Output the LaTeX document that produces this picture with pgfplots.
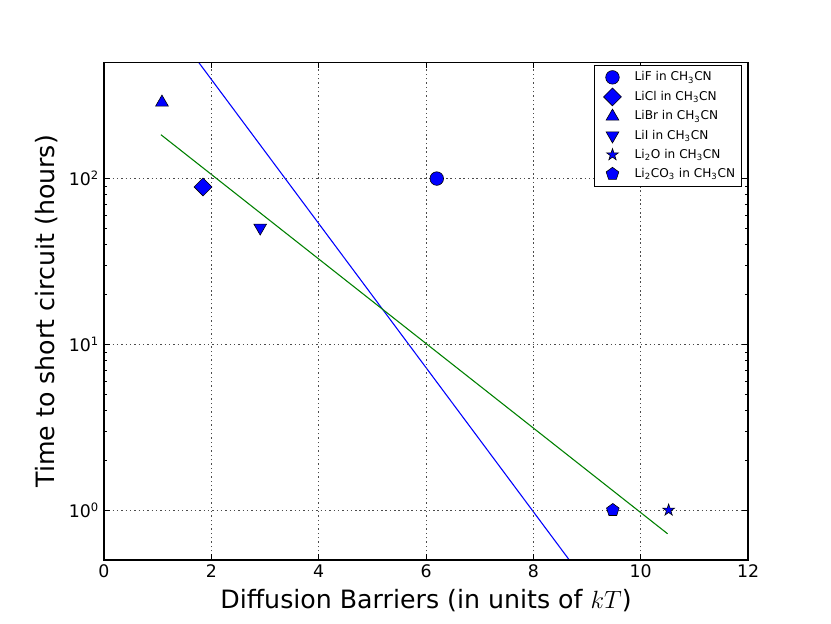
\documentclass[border=0pt]{standalone}
\usepackage{fontspec}
\setmainfont{DejaVu Sans}
\usepackage{pgfplots}
\pgfplotsset{compat=1.18}
\usetikzlibrary{plotmarks}
\pgfdeclareplotmark{fstar}{%
  \pgfpathmoveto{\pgfpointpolar{90}{\pgfplotmarksize}}%
  \pgfpathlineto{\pgfpointpolar{126}{0.382\pgfplotmarksize}}%
  \pgfpathlineto{\pgfpointpolar{162}{\pgfplotmarksize}}%
  \pgfpathlineto{\pgfpointpolar{198}{0.382\pgfplotmarksize}}%
  \pgfpathlineto{\pgfpointpolar{234}{\pgfplotmarksize}}%
  \pgfpathlineto{\pgfpointpolar{270}{0.382\pgfplotmarksize}}%
  \pgfpathlineto{\pgfpointpolar{306}{\pgfplotmarksize}}%
  \pgfpathlineto{\pgfpointpolar{342}{0.382\pgfplotmarksize}}%
  \pgfpathlineto{\pgfpointpolar{18}{\pgfplotmarksize}}%
  \pgfpathlineto{\pgfpointpolar{54}{0.382\pgfplotmarksize}}%
  \pgfpathclose\pgfusepathqfillstroke}
\definecolor{mplblue}{rgb}{0,0,1}
\definecolor{mplgreen}{rgb}{0,0.5,0}
\begin{document}
\begin{tikzpicture}
\path[use as bounding box] (0,0) rectangle (575.7pt,431.6pt);
\begin{axis}[
  at={(72.05pt,43.65pt)}, anchor=south west,
  scale only axis, width=446.2pt, height=344.5pt,
  xmin=0, xmax=12, ymode=log, ymin=0.5, ymax=500,
  xtick={0,2,...,12},
  ytick={1,10,100},
  yticklabels={10\textsuperscript{0},10\textsuperscript{1},10\textsuperscript{2}},
  ticklabel style={font=\fontsize{12}{14}\selectfont},
  xticklabel style={/pgf/number format/assume math mode=true},
  tick align=inside,
  major tick length=4pt, minor tick length=2pt,
  every tick/.style={black, line width=0.5pt},
  axis line style={line width=1pt},
  axis on top,
  grid=major,
  grid style={black!70, line width=0.5pt, dash pattern=on 1pt off 2pt},
  xlabel={Diffusion Barriers (in units of $kT$)},
  ylabel={Time to short circuit (hours)},
  every axis x label/.style={at={(axis description cs:0.5,0)}, anchor=center, yshift=-28pt, font=\fontsize{17.5}{20}\selectfont},
  every axis y label/.style={at={(axis description cs:0,0.5)}, anchor=center, rotate=90, yshift=39.5pt, font=\fontsize{17.5}{20}\selectfont},
  legend style={at={(1,1)}, anchor=north east, xshift=-4.2pt, yshift=-1.4pt,
    font=\fontsize{8.4}{10}\selectfont, draw=black, line width=0.6pt,
    cells={anchor=west}, row sep=1.4pt, inner sep=2.5pt},
  legend cell align=left,
  legend image code/.code={\path (0cm,0cm) (0.8cm,0cm); \draw[#1] plot coordinates {(0.34cm,0cm)};},
  clip=true,
]
\addplot[mplblue, line width=0.75pt, forget plot] coordinates {(1.06,1016) (10.5,0.08)};
\addplot[mplgreen, line width=0.75pt, forget plot] coordinates {(1.06,184) (10.5,0.72)};
\addplot[only marks, mark=*, mark size=4.7pt, mark options={fill=mplblue, draw=black, line width=0.4pt}] coordinates {(6.2,100)};
\addlegendentry{LiF in CH\textsubscript{3}CN}
\addplot[only marks, mark=diamond*, mark size=6.2pt, mark options={fill=mplblue, draw=black, line width=0.4pt, xscale=1.333}] coordinates {(1.845,89)};
\addlegendentry{LiCl in CH\textsubscript{3}CN}
\addplot[only marks, mark=triangle*, mark size=5.1pt, mark options={fill=mplblue, draw=black, line width=0.4pt}] coordinates {(1.08,288)};
\addlegendentry{LiBr in CH\textsubscript{3}CN}
\addplot[only marks, mark=triangle*, mark size=5.1pt, mark options={fill=mplblue, draw=black, line width=0.4pt, rotate=180}] coordinates {(2.91,50.5)};
\addlegendentry{LiI in CH\textsubscript{3}CN}
\addplot[only marks, mark=fstar, mark size=4.3pt, mark options={fill=mplblue, draw=black, line width=0.4pt}] coordinates {(10.52,1)};
\addlegendentry{Li\textsubscript{2}O in CH\textsubscript{3}CN}
\addplot[only marks, mark=pentagon*, mark size=4.6pt, mark options={fill=mplblue, draw=black, line width=0.4pt}] coordinates {(9.48,1)};
\addlegendentry{Li\textsubscript{2}CO\textsubscript{3} in CH\textsubscript{3}CN}
\end{axis}
\end{tikzpicture}
\end{document}
